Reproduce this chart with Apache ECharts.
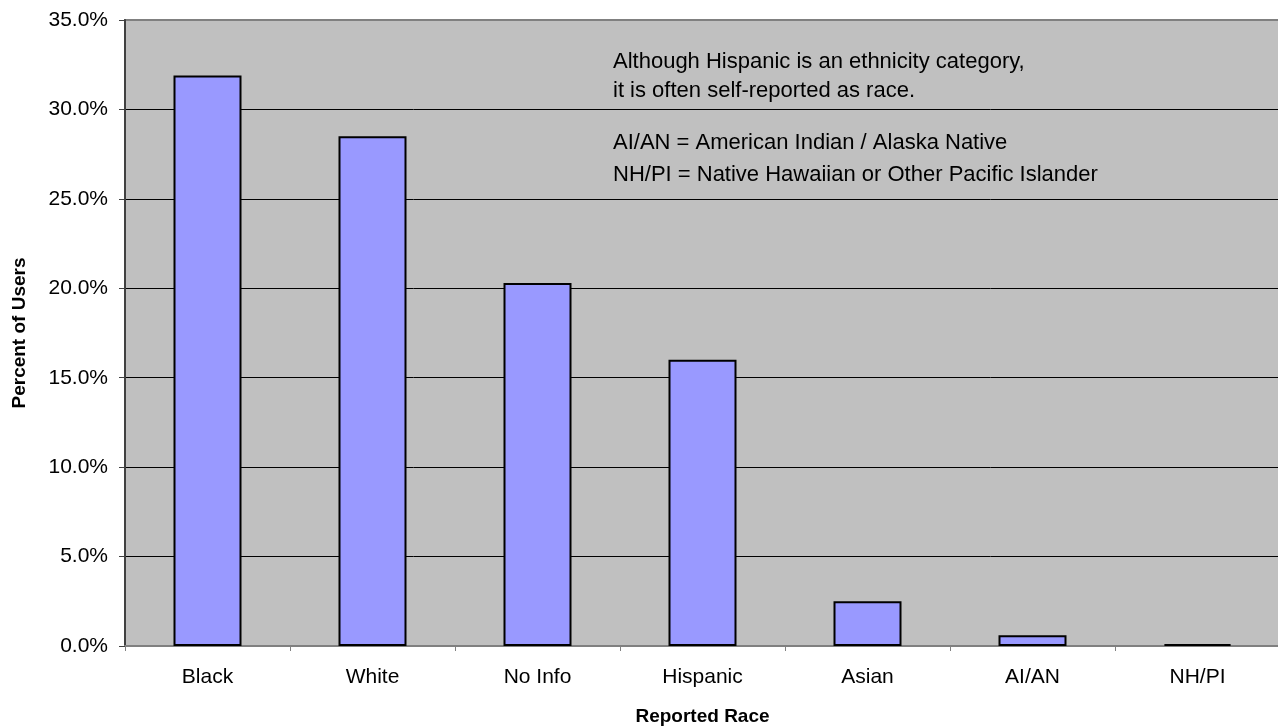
<!DOCTYPE html>
<html>
<head>
<meta charset="utf-8">
<script src="https://cdn.jsdelivr.net/npm/echarts@6/dist/echarts.min.js"></script>
<style>
  html, body { margin: 0; padding: 0; background: #fff; }
  #chart { width: 1278px; height: 727px; }
</style>
</head>
<body>
<div id="chart"></div>
<script>
var categories = ['Black', 'White', 'No Info', 'Hispanic', 'Asian', 'AI/AN', 'NH/PI'];
var percentUsers = [31.9, 28.5, 20.3, 16.0, 2.5, 0.6, 0.1];
var noteLines = [
    'Although Hispanic is an ethnicity category,',
    'it is often self-reported as race.',
    'AI/AN = American Indian / Alaska Native',
    'NH/PI = Native Hawaiian or Other Pacific Islander'
];

var font = '"Liberation Sans", Arial, sans-serif';
var myChart = echarts.init(document.getElementById('chart'));

var option = {
    animation: false,
    textStyle: { fontFamily: font },
    grid: {
        left: 125,
        right: -2,
        top: 20,
        bottom: 81,
        outerBoundsMode: 'none',
        show: true,
        backgroundColor: '#c0c0c0',
        borderColor: '#808080',
        borderWidth: 2
    },
    xAxis: {
        type: 'category',
        data: categories,
        name: 'Reported Race',
        nameLocation: 'middle',
        nameGap: 61,
        nameTextStyle: { fontSize: 19, fontWeight: 'bold', color: '#000', fontFamily: font },
        axisLine: { lineStyle: { color: '#808080', width: 2 } },
        axisTick: { show: true, length: 5, lineStyle: { color: '#808080', width: 1 } },
        axisLabel: { fontSize: 21, color: '#000', margin: 21, fontFamily: font }
    },
    yAxis: {
        type: 'value',
        min: 0,
        max: 35,
        interval: 5,
        name: 'Percent of Users',
        nameLocation: 'middle',
        nameRotate: 90,
        nameGap: 96,
        nameTextStyle: { fontSize: 19, fontWeight: 'bold', color: '#000', fontFamily: font },
        axisLine: { show: true, lineStyle: { color: '#404040', width: 2 } },
        axisTick: { show: true, length: 6, lineStyle: { color: '#404040' } },
        axisLabel: {
            fontSize: 21, color: '#000', margin: 17, fontFamily: font,
            formatter: function (v) { return v.toFixed(1) + '%'; }
        },
        splitLine: { show: true, showMaxLine: false, showMinLine: false, lineStyle: { color: '#000', width: 1 } }
    },
    graphic: noteLines.map(function (t, i) {
        var ys = [62, 91, 143, 175];
        return {
            type: 'text',
            x: 613,
            y: ys[i],
            style: { text: t, fontSize: 22, fill: '#000', fontFamily: font, textVerticalAlign: 'middle' }
        };
    }),
    series: [{
        type: 'bar',
        data: percentUsers,
        barWidth: 68,
        itemStyle: { color: '#9999ff', borderColor: '#000', borderWidth: 2 }
    }]
};

myChart.setOption(option);
</script>
</body>
</html>
